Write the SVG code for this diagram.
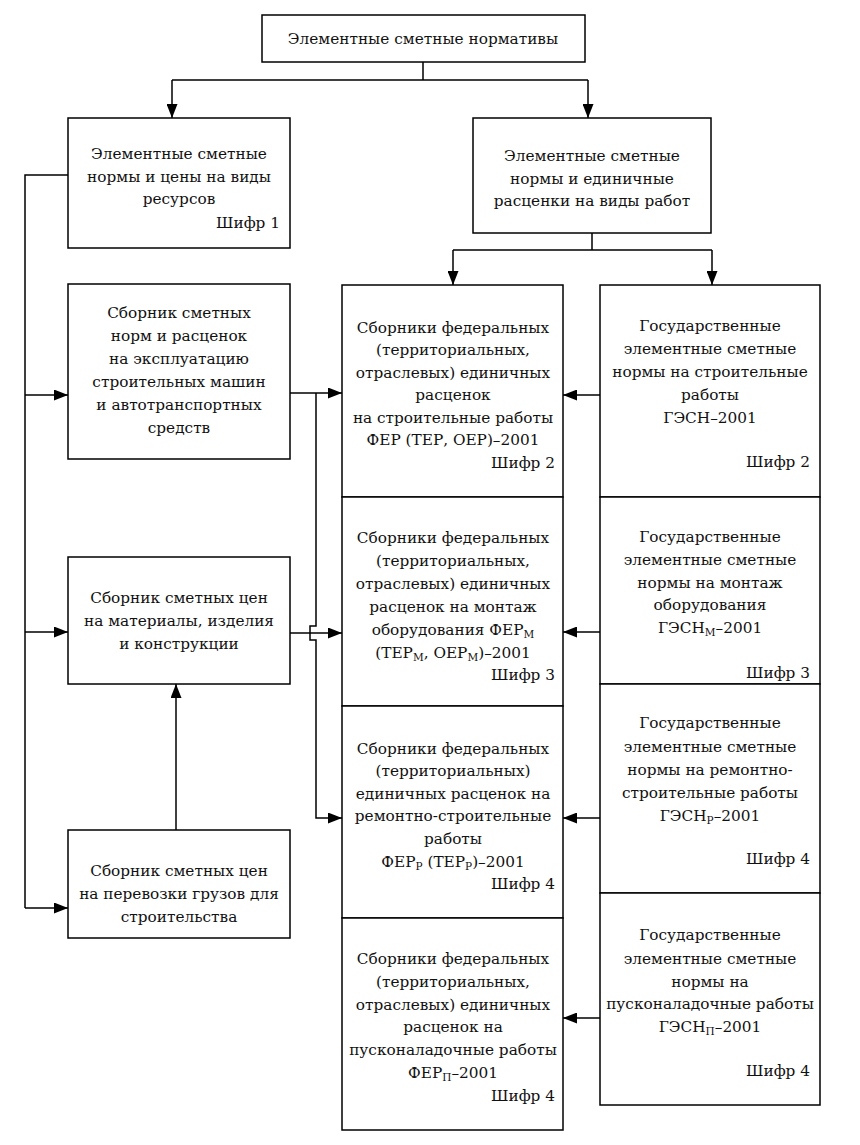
<svg xmlns="http://www.w3.org/2000/svg" width="860" height="1145" viewBox="0 0 860 1145">
<style>
.box{fill:#fff;stroke:#000;stroke-width:1.5}
.t{font-family:"DejaVu Serif",serif;font-size:15.3px;fill:#111;text-anchor:middle}
.r{text-anchor:end}
.ln{fill:none;stroke:#000;stroke-width:1.5}
.sub{font-size:10.5px}
</style>
<defs>
<marker id="ah" markerUnits="userSpaceOnUse" markerWidth="15" markerHeight="11" refX="14" refY="5.5" orient="auto">
<path d="M0,0 L14,5.5 L0,11 z" fill="#000"/>
</marker>
</defs>
<rect width="860" height="1145" fill="#fff"/>

<g id="connectors">
<path class="ln" d="M423,62 V80 M172,80 H588" />
<path class="ln" d="M172,80 V118" marker-end="url(#ah)"/>
<path class="ln" d="M588,80 V118" marker-end="url(#ah)"/>
<path class="ln" d="M592,233 V250 M453,250 H712"/>
<path class="ln" d="M453,250 V285" marker-end="url(#ah)"/>
<path class="ln" d="M712,250 V285" marker-end="url(#ah)"/>
<path class="ln" d="M68,175 H25 V908"/>
<path class="ln" d="M25,395 H68" marker-end="url(#ah)"/>
<path class="ln" d="M25,632 H68" marker-end="url(#ah)"/>
<path class="ln" d="M25,908 H68" marker-end="url(#ah)"/>
<path class="ln" d="M176,830 V684" marker-end="url(#ah)"/>
<path class="ln" d="M290,393 H342" marker-end="url(#ah)"/>
<path class="ln" d="M316,393 V626 H310 V640 H316 V818 H342" marker-end="url(#ah)"/>
<path class="ln" d="M290,633 H342" marker-end="url(#ah)"/>
<path class="ln" d="M600,395 H563" marker-end="url(#ah)"/>
<path class="ln" d="M600,632 H563" marker-end="url(#ah)"/>
<path class="ln" d="M600,818 H563" marker-end="url(#ah)"/>
<path class="ln" d="M600,1018 H563" marker-end="url(#ah)"/>
</g>

<g id="n_top">
<rect class="box" x="262" y="15" width="323" height="47"/>
<text class="t" x="423" y="44">Элементные сметные нормативы</text>
</g>

<g id="n_res">
<rect class="box" x="68" y="118" width="222" height="130"/>
<text class="t" x="179" y="159">Элементные сметные</text>
<text class="t" x="179" y="182">нормы и цены на виды</text>
<text class="t" x="179" y="204">ресурсов</text>
<text class="t r" x="280" y="228">Шифр 1</text>
</g>

<g id="n_work">
<rect class="box" x="473" y="118" width="238" height="115"/>
<text class="t" x="592" y="161">Элементные сметные</text>
<text class="t" x="592" y="184">нормы и единичные</text>
<text class="t" x="592" y="206">расценки на виды работ</text>
</g>

<g id="n_mach">
<rect class="box" x="68" y="284" width="222" height="175"/>
<text class="t" x="179" y="318">Сборник сметных</text>
<text class="t" x="179" y="341">норм и расценок</text>
<text class="t" x="179" y="364">на эксплуатацию</text>
<text class="t" x="179" y="387">строительных машин</text>
<text class="t" x="179" y="410">и автотранспортных</text>
<text class="t" x="179" y="433">средств</text>
</g>

<g id="n_mat">
<rect class="box" x="68" y="557" width="222" height="127"/>
<text class="t" x="179" y="603">Сборник сметных цен</text>
<text class="t" x="179" y="626">на материалы, изделия</text>
<text class="t" x="179" y="649">и конструкции</text>
</g>

<g id="n_freight">
<rect class="box" x="68" y="830" width="222" height="108"/>
<text class="t" x="179" y="876">Сборник сметных цен</text>
<text class="t" x="179" y="899">на перевозки грузов для</text>
<text class="t" x="179" y="922">строительства</text>
</g>

<g id="n_fer">
<rect class="box" x="342" y="285" width="221" height="212"/>
<text class="t" x="453" y="333">Сборники федеральных</text>
<text class="t" x="453" y="355">(территориальных,</text>
<text class="t" x="453" y="378">отраслевых) единичных</text>
<text class="t" x="453" y="400">расценок</text>
<text class="t" x="453" y="423">на строительные работы</text>
<text class="t" x="453" y="445">ФЕР (ТЕР, ОЕР)–2001</text>
<text class="t r" x="555" y="468">Шифр 2</text>
</g>

<g id="n_ferm">
<rect class="box" x="342" y="497" width="221" height="209"/>
<text class="t" x="453" y="543">Сборники федеральных</text>
<text class="t" x="453" y="566">(территориальных,</text>
<text class="t" x="453" y="589">отраслевых) единичных</text>
<text class="t" x="453" y="612">расценок на монтаж</text>
<text class="t" x="453" y="635">оборудования ФЕР<tspan class="sub" dy="3">М</tspan></text>
<text class="t" x="453" y="658">(ТЕР<tspan class="sub" dy="3">М</tspan><tspan dy="-3">, ОЕР</tspan><tspan class="sub" dy="3">М</tspan><tspan dy="-3">)–2001</tspan></text>
<text class="t r" x="555" y="680">Шифр 3</text>
</g>

<g id="n_ferr">
<rect class="box" x="342" y="706" width="221" height="212"/>
<text class="t" x="453" y="754">Сборники федеральных</text>
<text class="t" x="453" y="776">(территориальных)</text>
<text class="t" x="453" y="799">единичных расценок на</text>
<text class="t" x="453" y="821">ремонтно-строительные</text>
<text class="t" x="453" y="844">работы</text>
<text class="t" x="453" y="867">ФЕР<tspan class="sub" dy="3">Р</tspan><tspan dy="-3"> (ТЕР</tspan><tspan class="sub" dy="3">Р</tspan><tspan dy="-3">)–2001</tspan></text>
<text class="t r" x="555" y="889">Шифр 4</text>
</g>

<g id="n_ferp">
<rect class="box" x="342" y="918" width="221" height="212"/>
<text class="t" x="453" y="964">Сборники федеральных</text>
<text class="t" x="453" y="987">(территориальных,</text>
<text class="t" x="453" y="1010">отраслевых) единичных</text>
<text class="t" x="453" y="1032">расценок на</text>
<text class="t" x="453" y="1055">пусконаладочные работы</text>
<text class="t" x="453" y="1078">ФЕР<tspan class="sub" dy="3">П</tspan><tspan dy="-3">–2001</tspan></text>
<text class="t r" x="555" y="1101">Шифр 4</text>
</g>

<g id="n_gesn">
<rect class="box" x="600" y="285" width="220" height="212"/>
<text class="t" x="710" y="331">Государственные</text>
<text class="t" x="710" y="354">элементные сметные</text>
<text class="t" x="710" y="377">нормы на строительные</text>
<text class="t" x="710" y="400">работы</text>
<text class="t" x="710" y="423">ГЭСН–2001</text>
<text class="t r" x="810" y="467">Шифр 2</text>
</g>

<g id="n_gesnm">
<rect class="box" x="600" y="497" width="220" height="187"/>
<text class="t" x="710" y="542">Государственные</text>
<text class="t" x="710" y="565">элементные сметные</text>
<text class="t" x="710" y="588">нормы на монтаж</text>
<text class="t" x="710" y="610">оборудования</text>
<text class="t" x="710" y="633">ГЭСН<tspan class="sub" dy="3">М</tspan><tspan dy="-3">–2001</tspan></text>
<text class="t r" x="810" y="678">Шифр 3</text>
</g>

<g id="n_gesnr">
<rect class="box" x="600" y="684" width="220" height="209"/>
<text class="t" x="710" y="728">Государственные</text>
<text class="t" x="710" y="752">элементные сметные</text>
<text class="t" x="710" y="775">нормы на ремонтно-</text>
<text class="t" x="710" y="798">строительные работы</text>
<text class="t" x="710" y="821">ГЭСН<tspan class="sub" dy="3">Р</tspan><tspan dy="-3">–2001</tspan></text>
<text class="t r" x="810" y="864">Шифр 4</text>
</g>

<g id="n_gesnp">
<rect class="box" x="600" y="893" width="220" height="212"/>
<text class="t" x="710" y="940">Государственные</text>
<text class="t" x="710" y="964">элементные сметные</text>
<text class="t" x="710" y="987">нормы на</text>
<text class="t" x="710" y="1009">пусконаладочные работы</text>
<text class="t" x="710" y="1032">ГЭСН<tspan class="sub" dy="3">П</tspan><tspan dy="-3">–2001</tspan></text>
<text class="t r" x="810" y="1076">Шифр 4</text>
</g>
</svg>
